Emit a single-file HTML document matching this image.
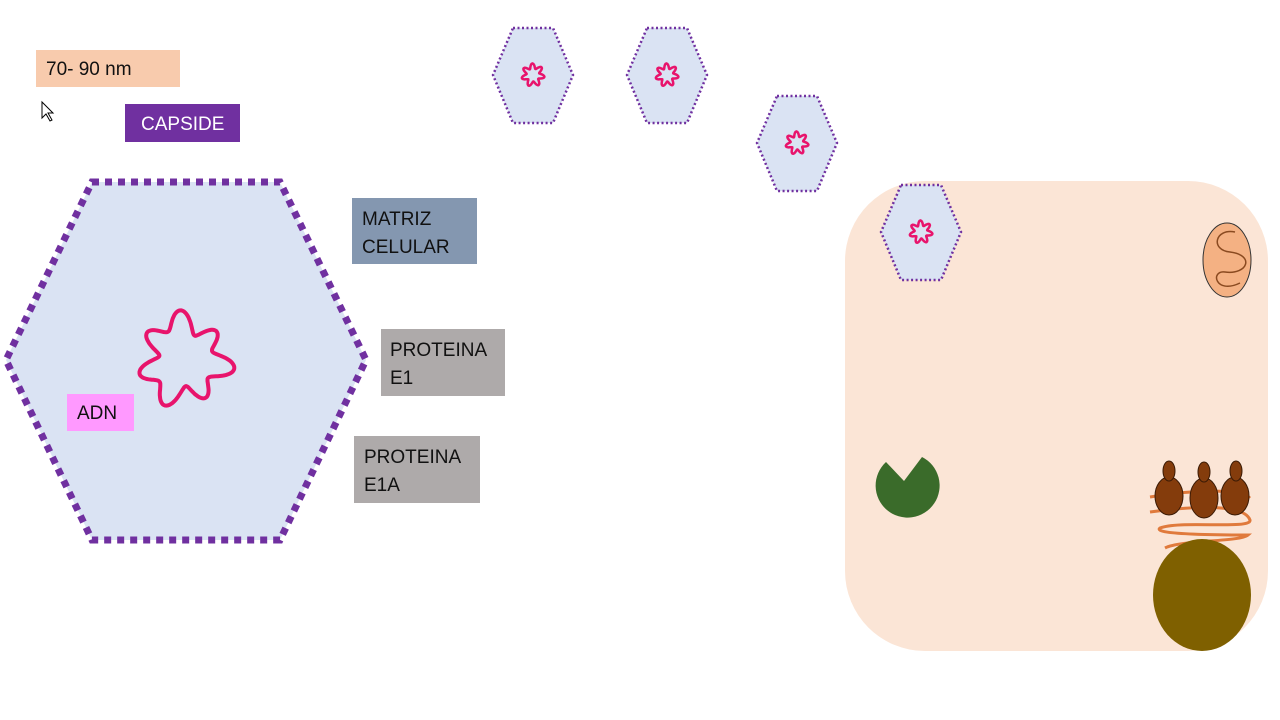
<!DOCTYPE html>
<html><head><meta charset="utf-8"><style>
body{margin:0;width:1280px;height:720px;background:#fff;overflow:hidden;font-family:"Liberation Sans",sans-serif}
.box{position:absolute;font-size:19px;color:#111;box-sizing:border-box}
</style></head><body>
<svg width="1280" height="720" style="position:absolute;left:0;top:0">
<rect x="845" y="181" width="423" height="470" rx="80" fill="#fbe5d6"/>
<polygon points="92,182 280,182 366,360 280,540 92,540 6,360" fill="#dae3f3" stroke="#7030a0" stroke-width="7" stroke-dasharray="7 6"/>
<g id="smalls"></g>
<path id="bigdna" fill="none" stroke="#e8146c" stroke-width="4"/>
<ellipse cx="1227" cy="260" rx="24" ry="37" fill="#f4b183" stroke="#333" stroke-width="1"/>
<path d="M1235,232 C1215,228 1210,250 1230,252 C1255,255 1248,275 1225,272 C1210,270 1215,295 1240,283" fill="none" stroke="#8a4a20" stroke-width="1.5"/>
<path d="M904,481 L922,457 A32,32 0 1 1 886,462 Z" fill="#3a6b2a"/>
<path d="M1150,497 C1190,490 1240,488 1250,498 M1150,512 C1200,505 1245,505 1250,520 C1252,530 1180,520 1160,528 C1150,535 1230,535 1248,535 C1240,542 1180,540 1165,548" fill="none" stroke="#e07a3c" stroke-width="3"/>
<g fill="#843c0c" stroke="#3a1a05" stroke-width="1">
<ellipse cx="1169" cy="496" rx="14" ry="19"/><ellipse cx="1169" cy="471" rx="6" ry="10"/>
<ellipse cx="1204" cy="498" rx="14" ry="20"/><ellipse cx="1204" cy="472" rx="6" ry="10"/>
<ellipse cx="1235" cy="496" rx="14" ry="19"/><ellipse cx="1236" cy="471" rx="6" ry="10"/>
</g>
<ellipse cx="1202" cy="595" rx="49" ry="56" fill="#7f6000"/>
<path d="M42,102 L42,118 L46,114 L50,121 L52,120 L48,113 L53,113 Z" fill="#fff" stroke="#000" stroke-width="1"/>
</svg>
<div class="box" style="left:36px;top:50px;width:144px;height:37px;background:#f8cbad;padding:9px 10px">70- 90 nm</div>
<div class="box" style="left:125px;top:104px;width:115px;height:38px;background:#7030a0;color:#fff;padding:10px 16px">CAPSIDE</div>
<div class="box" style="left:352px;top:198px;width:125px;height:66px;background:#8497b0;padding:8px 10px;line-height:28px">MATRIZ<br>CELULAR</div>
<div class="box" style="left:381px;top:329px;width:124px;height:67px;background:#aeaaaa;padding:8px 9px;line-height:28px">PROTEINA<br>E1</div>
<div class="box" style="left:354px;top:436px;width:126px;height:67px;background:#aeaaaa;padding:8px 10px;line-height:28px">PROTEINA<br>E1A</div>
<div class="box" style="left:67px;top:394px;width:67px;height:37px;background:#ff99ff;padding:9px 10px">ADN</div>
<script>
function blob(cx,cy,R,a,n,irr){let d="";for(let i=0;i<=240;i++){const t=i/240*Math.PI*2;const r=R+a*Math.sin(n*t+0.4)+(irr||0)*Math.sin(3*t+1);d+=(i?"L":"M")+(cx+r*Math.cos(t)).toFixed(1)+","+(cy+r*Math.sin(t)).toFixed(1);}return d+"Z";}
document.getElementById("bigdna").setAttribute("d",blob(184,360,38,9,7,4));
const g=document.getElementById("smalls");let h="";
[[533,75],[667,75],[797,143],[921,232]].forEach(([x,y])=>{
h+=`<polygon points="${x-20},${y-47} ${x+20},${y-47} ${x+40},${y} ${x+20},${y+48} ${x-20},${y+48} ${x-40},${y}" fill="#dae3f3" stroke="#7030a0" stroke-width="2.5" stroke-dasharray="2 2.5"/>`;
h+=`<path d="${blob(x,y,9,2.5,7)}" fill="none" stroke="#e8146c" stroke-width="2.5"/>`;});
g.innerHTML=h;
</script>
</body></html>
